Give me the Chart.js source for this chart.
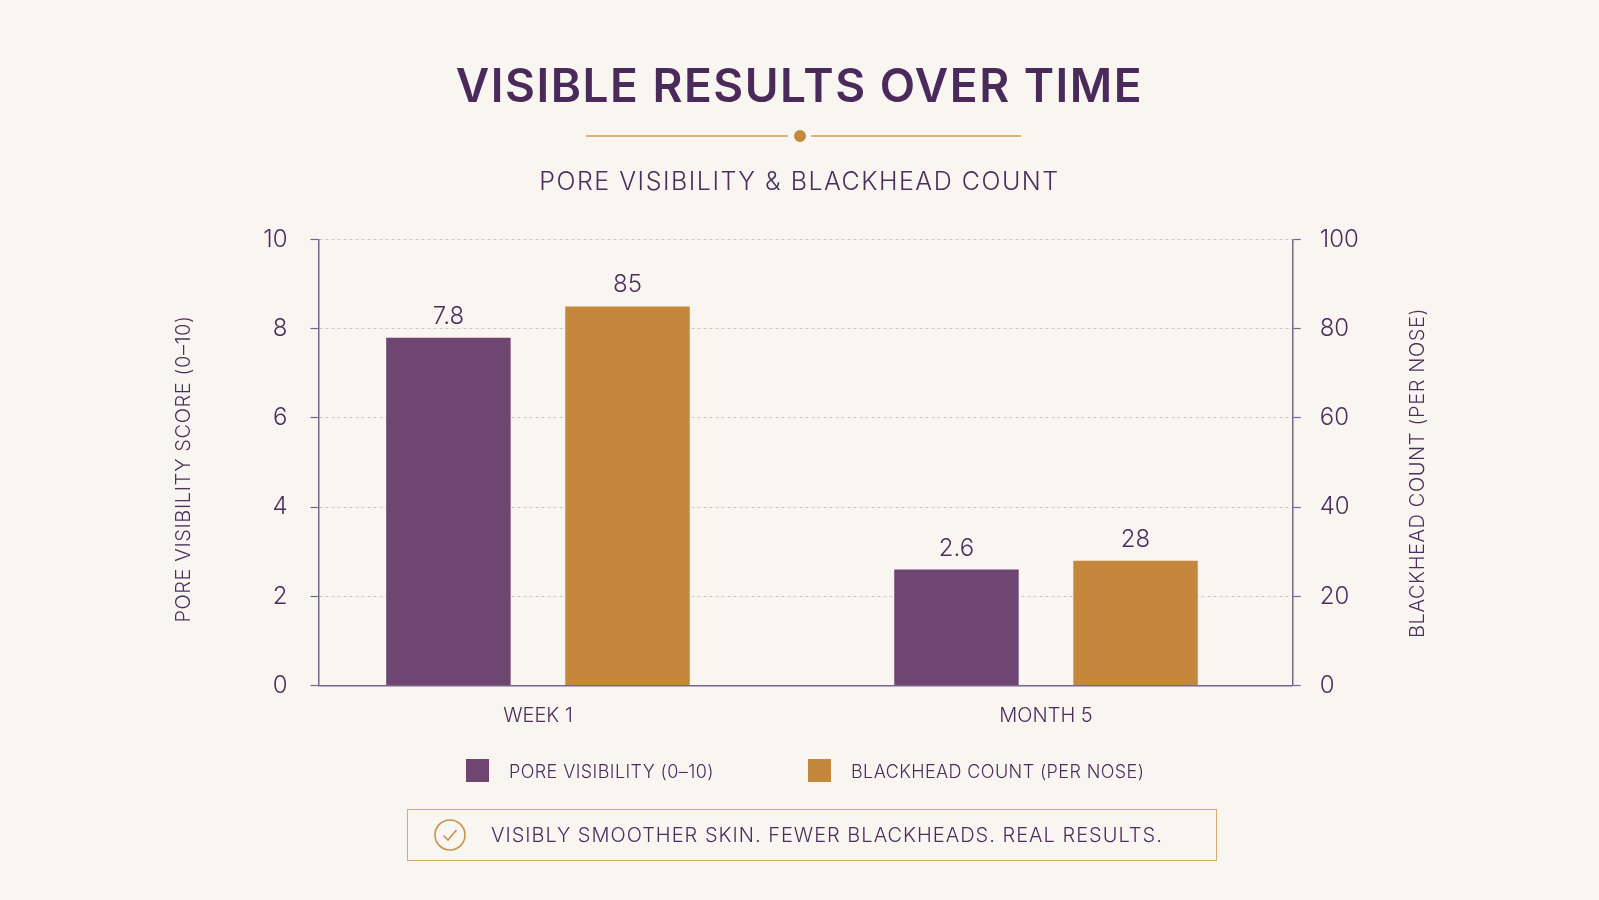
<!DOCTYPE html>
<html>
<head>
<meta charset="utf-8">
<title>Visible Results Over Time</title>
<script src="https://cdn.jsdelivr.net/npm/chart.js@4"></script>
<style>
    html, body { margin: 0; padding: 0; background: #f9f5f1; }
    body { position: relative; width: 1599px; height: 900px; overflow: hidden; font-family: Inter, sans-serif; font-weight: 300; color: #4a2f5c; }
    #resultsChart { position: absolute; left: 0; top: 0; }
    .line { position: absolute; white-space: nowrap; transform: translateY(-50%); }
    #title { left: 0; width: 1599px; top: 85px; text-align: center; font-size: 46px; font-weight: 600; letter-spacing: 1.5px; color: #4a2a5a; }
    #subtitle { left: 0; width: 1599px; top: 181px; text-align: center; font-size: 25px; letter-spacing: 1.5px; }
    .rule { position: absolute; top: 135px; height: 2px; background: #d7b47c; }
    #dot { position: absolute; left: 794px; top: 130px; width: 12px; height: 12px; border-radius: 50%; background: #c48a40; }
    .swatch { position: absolute; top: 759px; width: 23px; height: 23px; }
    .legendText { top: 771px; font-size: 18px; letter-spacing: 0.4px; }
    #callout { position: absolute; left: 407px; top: 809px; width: 808px; height: 50px; border: 1.5px solid #d6ac6c; }
    #calloutIcon { position: absolute; left: 433px; top: 818px; }
    #calloutText { left: 491px; top: 835px; font-size: 20px; letter-spacing: 1px; }
</style>
</head>
<body>
<canvas id="resultsChart" width="1599" height="900"></canvas>

<div class="line" id="title">VISIBLE RESULTS OVER TIME</div>
<div class="rule" style="left:586px;width:202px"></div>
<div id="dot"></div>
<div class="rule" style="left:811px;width:210px"></div>
<div class="line" id="subtitle">PORE VISIBILITY &amp; BLACKHEAD COUNT</div>

<div class="swatch" style="left:466px;background:#6f4672"></div>
<div class="line legendText" style="left:509px">PORE VISIBILITY (0–10)</div>
<div class="swatch" style="left:808px;background:#c4873c"></div>
<div class="line legendText" style="left:851px">BLACKHEAD COUNT (PER NOSE)</div>

<div id="callout"></div>
<svg id="calloutIcon" width="34" height="34" viewBox="0 0 34 34">
    <circle cx="17" cy="17" r="15" fill="none" stroke="#c8924a" stroke-width="1.6"/>
    <polyline points="10.5,17.5 15,22 23.5,12" fill="none" stroke="#c8924a" stroke-width="1.6"/>
</svg>
<div class="line" id="calloutText">VISIBLY SMOOTHER SKIN. FEWER BLACKHEADS. REAL RESULTS.</div>

<script>
const categories = ['WEEK 1', 'MONTH 5'];
const poreScores = [7.8, 2.6];
const blackheadCounts = [85, 28];
const scoreTicks = [0, 2, 4, 6, 8, 10];
const countTicks = [0, 20, 40, 60, 80, 100];

const INK = '#4a2f5c';
const AXIS = '#75698a';
const GRID = '#cbc5c1';
const FONT = 'Inter, sans-serif';

// axis titles read bottom to top on both sides, so they are drawn here
// instead of with the scale title option
const axisTitles = {
    id: 'axisTitles',
    afterDraw(chart) {
        const ctx = chart.ctx;
        const items = [
            ['PORE VISIBILITY SCORE (0–10)', 184, 469],
            ['BLACKHEAD COUNT (PER NOSE)', 1418, 473]
        ];
        items.forEach(([text, x, y]) => {
            ctx.save();
            ctx.translate(x, y);
            ctx.rotate(-Math.PI / 2);
            ctx.font = '300 20px ' + FONT;
            ctx.letterSpacing = '0.6px';
            ctx.fillStyle = INK;
            ctx.textAlign = 'center';
            ctx.textBaseline = 'middle';
            ctx.fillText(text, 0, 0);
            ctx.restore();
        });
    }
};

const valueLabels = {
    id: 'valueLabels',
    afterDatasetsDraw(chart) {
        const ctx = chart.ctx;
        ctx.save();
        ctx.font = '300 24px ' + FONT;
        ctx.fillStyle = INK;
        ctx.textAlign = 'center';
        ctx.textBaseline = 'alphabetic';
        chart.data.datasets.forEach((ds, i) => {
            chart.getDatasetMeta(i).data.forEach((bar, j) => {
                ctx.fillText(String(ds.data[j].y), bar.x, bar.y - 14);
            });
        });
        ctx.restore();
    }
};

function toPoints(values) {
    return values.map((v, i) => ({ x: i, y: v }));
}

// fixes the width of a y axis so the plot area lands where it should
function fixedWidth(w) {
    return scale => { scale.width = w; };
}

new Chart(document.getElementById('resultsChart'), {
    type: 'bar',
    data: {
        datasets: [{
            label: 'PORE VISIBILITY (0–10)',
            data: toPoints(poreScores),
            backgroundColor: '#6f4672',
            yAxisID: 'y',
            categoryPercentage: 0.705,
            barPercentage: 0.695
        }, {
            label: 'BLACKHEAD COUNT (PER NOSE)',
            data: toPoints(blackheadCounts),
            backgroundColor: '#c4873c',
            yAxisID: 'y1',
            categoryPercentage: 0.705,
            barPercentage: 0.695
        }]
    },
    options: {
        responsive: false,
        animation: false,
        layout: { padding: { left: 200, right: 200, top: 239.5, bottom: 150 } },
        plugins: { legend: { display: false }, title: { display: false }, tooltip: { enabled: false } },
        scales: {
            x: {
                type: 'linear',
                offset: false,
                min: -0.432,
                max: 1.4856,
                afterBuildTicks: scale => { scale.ticks = categories.map((_, i) => ({ value: i })); },
                afterFit: scale => { scale.height = 64.4; },
                grid: { display: false },
                border: { color: AXIS, width: 1.5 },
                ticks: {
                    autoSkip: false,
                    maxRotation: 0,
                    padding: 10,
                    color: INK,
                    font: { family: FONT, size: 20, weight: 300 },
                    callback: value => categories[value]
                }
            },
            y: {
                position: 'left',
                min: 0,
                max: 10,
                afterBuildTicks: scale => { scale.ticks = scoreTicks.map(v => ({ value: v })); },
                afterFit: fixedWidth(118.5),
                grid: { color: GRID, lineWidth: 1, tickColor: AXIS, tickLength: 8, tickWidth: 1.2 },
                border: { color: AXIS, width: 1.5, dash: [3, 3] },
                ticks: { padding: 23, color: INK, font: { family: FONT, size: 24, weight: 300 } }
            },
            y1: {
                position: 'right',
                min: 0,
                max: 100,
                afterBuildTicks: scale => { scale.ticks = countTicks.map(v => ({ value: v })); },
                afterFit: fixedWidth(106.3),
                grid: { drawOnChartArea: false, tickColor: AXIS, tickLength: 8, tickWidth: 1.2 },
                border: { color: AXIS, width: 1.5 },
                ticks: { padding: 19, color: INK, font: { family: FONT, size: 24, weight: 300 } }
            }
        }
    },
    plugins: [valueLabels, axisTitles]
});
</script>
</body>
</html>
